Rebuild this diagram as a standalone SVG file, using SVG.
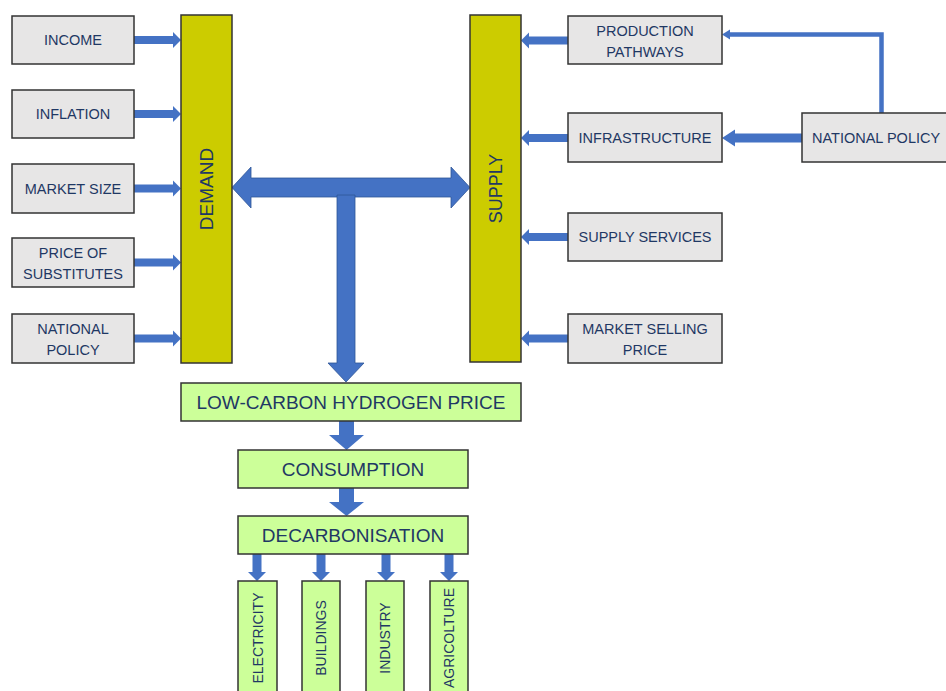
<svg xmlns="http://www.w3.org/2000/svg" width="946" height="691" viewBox="0 0 946 691">
<style>
.box{fill:#e7e6e6;stroke:#333;stroke-width:1.5}
.bar{fill:#cccc00;stroke:#333;stroke-width:1.5}
.grn{fill:#ccff99;stroke:#333;stroke-width:1.5}
.t{font-family:"Liberation Sans",Arial,sans-serif;font-size:14.5px;fill:#1f3864;text-anchor:middle}
.tb{font-family:"Liberation Sans",Arial,sans-serif;font-size:19px;fill:#1f3864;text-anchor:middle}
.ts{font-family:"Liberation Sans",Arial,sans-serif;font-size:14px;fill:#1f3864;text-anchor:middle}
.ar{fill:#4472c4}
.arb{fill:#4472c4;stroke:#2f5597;stroke-width:0.8}
.ln{fill:none;stroke:#4472c4;stroke-width:4.5}
</style>
<rect width="946" height="691" fill="#fff"/>
<g id="connectors">
  <!-- left inputs to DEMAND -->
  <polygon class="ar" points="134,36 173,36 173,32 181,40 173,48 173,44 134,44"/>
  <polygon class="ar" points="134,110 173,110 173,106 181,114 173,122 173,118 134,118"/>
  <polygon class="ar" points="134,184.5 173,184.5 173,180.5 181,188.5 173,196.5 173,192.5 134,192.5"/>
  <polygon class="ar" points="134,258.5 173,258.5 173,254.5 181,262.5 173,270.5 173,266.5 134,266.5"/>
  <polygon class="ar" points="134,334.5 173,334.5 173,330.5 181,338.5 173,346.5 173,342.5 134,342.5"/>
  <!-- right inputs to SUPPLY -->
  <polygon class="ar" points="568,36.5 529,36.5 529,32.5 521,40.5 529,48.5 529,44.5 568,44.5"/>
  <polygon class="ar" points="568,134 529,134 529,130 521,138 529,146 529,142 568,142"/>
  <polygon class="ar" points="568,233 529,233 529,229 521,237 529,245 529,241 568,241"/>
  <polygon class="ar" points="568,334.5 529,334.5 529,330.5 521,338.5 529,346.5 529,342.5 568,342.5"/>
  <!-- national policy to infrastructure -->
  <polygon class="ar" points="802,133.5 735,133.5 735,129.5 722,138 735,146.5 735,142.5 802,142.5"/>
  <!-- national policy to production pathways -->
  <path class="ln" d="M881.5,113 V34.5 H729"/>
  <polygon class="ar" points="730,29.5 722,34.5 730,39.5"/>
  <!-- T arrow -->
  <polygon class="arb" points="232,187.5 251,167 251,178 451,178 451,167 470,187.5 451,208 451,197 251,197 251,208"/>
  <polygon class="arb" points="337,195 355,195 355,363 364,363 346,382 328,363 337,363"/>
  <!-- price to consumption -->
  <polygon class="ar" points="339,421 354,421 354,435 364,435 346.5,450 329,435 339,435"/>
  <polygon class="ar" points="339,488 354,488 354,502 364,502 346.5,516 329,502 339,502"/>
  <!-- decarbonisation to sectors -->
  <polygon class="ar" points="252.5,554 261.5,554 261.5,572 266,572 257,581 248,572 252.5,572"/>
  <polygon class="ar" points="316.5,554 325.5,554 325.5,572 330,572 321,581 312,572 316.5,572"/>
  <polygon class="ar" points="381.5,554 390.5,554 390.5,572 395,572 386,581 377,572 381.5,572"/>
  <polygon class="ar" points="444.5,554 453.5,554 453.5,572 458,572 449,581 440,572 444.5,572"/>
</g>
<g id="income"><rect class="box" x="12" y="16" width="122" height="48"/><text class="t" x="73" y="45">INCOME</text></g>
<g id="inflation"><rect class="box" x="12" y="90" width="122" height="48"/><text class="t" x="73" y="119">INFLATION</text></g>
<g id="market-size"><rect class="box" x="12" y="164" width="122" height="49"/><text class="t" x="73" y="193.5">MARKET SIZE</text></g>
<g id="price-substitutes"><rect class="box" x="12" y="238" width="122" height="49"/><text class="t" x="73" y="258">PRICE OF</text><text class="t" x="73" y="279">SUBSTITUTES</text></g>
<g id="national-policy-left"><rect class="box" x="12" y="314" width="122" height="49"/><text class="t" x="73" y="333.5">NATIONAL</text><text class="t" x="73" y="354.5">POLICY</text></g>
<g id="demand"><rect class="bar" x="181" y="15" width="51" height="348"/><text class="tb" transform="translate(213,189) rotate(-90)">DEMAND</text></g>
<g id="supply"><rect class="bar" x="470" y="15" width="51" height="347"/><text class="tb" style="font-size:18px" transform="translate(502,188.5) rotate(-90)">SUPPLY</text></g>
<g id="production-pathways"><rect class="box" x="568" y="16" width="154" height="48"/><text class="t" x="645" y="35.5">PRODUCTION</text><text class="t" x="645" y="56.5">PATHWAYS</text></g>
<g id="infrastructure"><rect class="box" x="568" y="113" width="154" height="49"/><text class="t" x="645" y="142.5">INFRASTRUCTURE</text></g>
<g id="supply-services"><rect class="box" x="568" y="213" width="154" height="48"/><text class="t" x="645" y="242">SUPPLY SERVICES</text></g>
<g id="market-selling-price"><rect class="box" x="568" y="314" width="154" height="49"/><text class="t" x="645" y="333.5">MARKET SELLING</text><text class="t" x="645" y="354.5">PRICE</text></g>
<g id="national-policy-right"><rect class="box" x="802" y="113" width="150" height="49"/><text class="t" x="812" y="142.5" style="text-anchor:start">NATIONAL POLICY</text></g>
<g id="hydrogen-price"><rect class="grn" x="181" y="383" width="340" height="38"/><text class="tb" x="351" y="409">LOW-CARBON HYDROGEN PRICE</text></g>
<g id="consumption"><rect class="grn" x="238" y="450" width="230" height="38"/><text class="tb" x="353" y="476">CONSUMPTION</text></g>
<g id="decarbonisation"><rect class="grn" x="238" y="516" width="230" height="38"/><text class="tb" x="353" y="542">DECARBONISATION</text></g>
<g id="electricity"><rect class="grn" x="238" y="581" width="39" height="120"/><text class="ts" transform="translate(262.5,638) rotate(-90)">ELECTRICITY</text></g>
<g id="buildings"><rect class="grn" x="302" y="581" width="38" height="120"/><text class="ts" transform="translate(326,638) rotate(-90)">BUILDINGS</text></g>
<g id="industry"><rect class="grn" x="366" y="581" width="38" height="120"/><text class="ts" transform="translate(390,638) rotate(-90)">INDUSTRY</text></g>
<g id="agricolture"><rect class="grn" x="430" y="581" width="38" height="120"/><text class="ts" transform="translate(454,638) rotate(-90)">AGRICOLTURE</text></g>
</svg>
